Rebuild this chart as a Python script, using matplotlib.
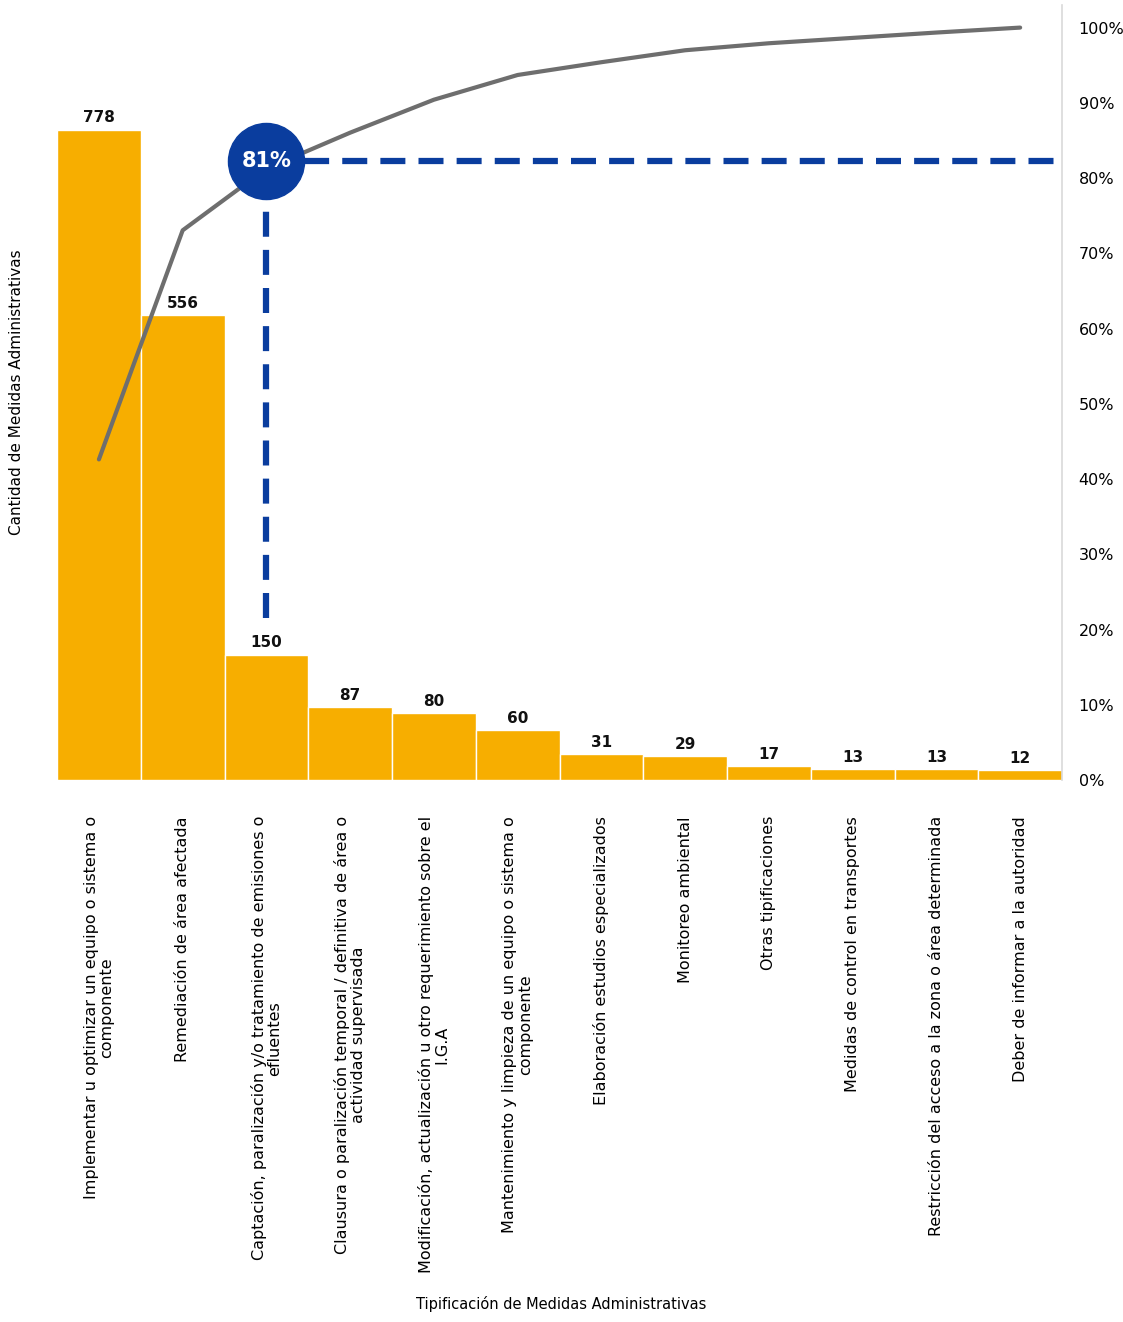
import matplotlib.pyplot as plt
import numpy as np

plt.rcParams['font.family'] = ['DejaVu Sans']

categories = [
    "Implementar u optimizar un equipo o sistema o\ncomponente",
    "Remediación de área afectada",
    "Captación, paralización y/o tratamiento de emisiones o\nefluentes",
    "Clausura o paralización temporal / definitiva de área o\nactividad supervisada",
    "Modificación, actualización u otro requerimiento sobre el\nI.G.A",
    "Mantenimiento y limpieza de un equipo o sistema o\ncomponente",
    "Elaboración estudios especializados",
    "Monitoreo ambiental",
    "Otras tipificaciones",
    "Medidas de control en transportes",
    "Restricción del acceso a la zona o área determinada",
    "Deber de informar a la autoridad",
]
counts = [778, 556, 150, 87, 80, 60, 31, 29, 17, 13, 13, 12]
pct_ticks = [0, 0.1, 0.2, 0.3, 0.4, 0.5, 0.6, 0.7, 0.8, 0.9, 1.0]
pct_labels = ["0%", "10%", "20%", "30%", "40%", "50%", "60%", "70%", "80%", "90%", "100%"]
mark_idx = 2
mark_text = "81%"

BAR = "#F7AE00"
BLUE = "#0A3D9E"
GRAY = "#6E6E6E"

cum = np.cumsum(counts) / np.sum(counts)
x = np.arange(len(counts))

fig = plt.figure(figsize=(11.23, 13.22), dpi=100)
ax = fig.add_axes([0.0508, 0.41, 0.8949, 0.5862])
ax2 = ax.twinx()

ax.bar(x, counts, width=1.0, color=BAR, edgecolor="white", linewidth=1)
for xi, v in zip(x, counts):
    ax.text(xi, v + 5, str(v), ha="center", va="bottom", fontsize=11, fontweight="bold", color="#111111")

ax.set_xlim(-0.5, len(counts) - 0.5)
ax.set_ylim(0, 900 * 1.03)
ax.set_yticks([])
ax.set_xticks(x)
ax.set_xticklabels(categories, rotation=90, ha="center", va="top", fontsize=11.5,
                   multialignment="center", linespacing=1.05)
ax.tick_params(axis="x", length=0, pad=26)
for s in ["top", "left", "bottom", "right"]:
    ax.spines[s].set_visible(False)
ax.set_ylabel("Cantidad de Medidas Administrativas", fontsize=11, labelpad=24)
fig.text(0.4996, 0.0076, "Tipificación de Medidas Administrativas", ha="center", va="bottom", fontsize=10.5)

ax2.plot(x, cum, color=GRAY, lw=3, solid_capstyle="round", zorder=3)
ax2.set_ylim(0, 1.03)
ax2.set_yticks(pct_ticks)
ax2.set_yticklabels(pct_labels, fontsize=11.5)
ax2.tick_params(axis="y", length=0, pad=12)
for s in ["top", "left", "bottom"]:
    ax2.spines[s].set_visible(False)
ax2.spines["right"].set_color("#D9D9D9")
ax2.spines["right"].set_linewidth(1.2)

# 81% marker
my = cum[mark_idx] + 0.01
ax2.plot([mark_idx, len(counts) - 0.5], [my, my], color=BLUE, lw=4.5,
         linestyle=(0, (4.0, 2.1)), zorder=4, clip_on=False)
ax2.plot([mark_idx, mark_idx], [0.215, my], color=BLUE, lw=4.5,
         linestyle=(0, (4.0, 2.1)), zorder=4)
ax2.scatter([mark_idx], [my], s=3000, color=BLUE, zorder=5)
ax2.text(mark_idx, my, mark_text, ha="center", va="center", color="white",
         fontsize=15, fontweight="bold", zorder=6)

fig.savefig("out.png", dpi=100)
